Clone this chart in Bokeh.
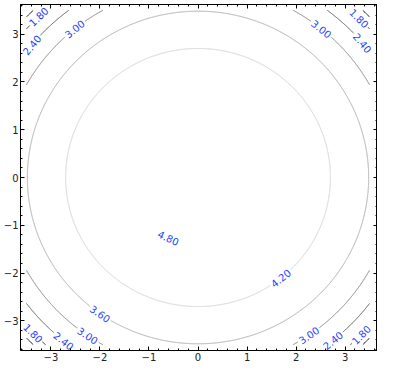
import numpy as np
from bokeh.plotting import figure
from bokeh.models import Range1d, LinearAxis, SingleIntervalTicker
from bokeh.core.properties import value
from bokeh.embed import file_html
from bokeh.resources import INLINE

# ---- data ----
levels = [1.2, 1.8, 2.4, 3.0, 3.6, 4.2, 4.8]
radii = [4.85, 4.68, 4.38, 4.00, 3.48, 2.70, 1.40]
line_colors = ["#000000", "#2a2a2a", "#555555", "#7f7f7f", "#aaaaaa", "#d4d4d4", "#ffffff"]
grid_half = 3.5  # extent of the contoured field

label_levels = [1.8, 2.4, 3.0, 1.8, 2.4, 3.0, 1.8, 2.4, 3.0, 3.6, 1.8, 2.4, 3.0, 4.2, 4.8]
label_pos_deg = [134, 140.7, 129, 45.4, 40, 51, 224.1, 231.3, 235.8, 235, -44.7, -51.1, -55.6, -51.3, 244.5]

tick_font = "DejaVu Sans"
PX_PER_UNIT = 48.0
GAP_PX = 12.5

p = figure(width=377, height=363, output_backend="svg", toolbar_location=None,
           x_range=Range1d(-3.62, 3.66), y_range=Range1d(-3.62, 3.62),
           min_border_left=0, min_border_right=0, min_border_top=4, min_border_bottom=0)
p.grid.visible = False
p.outline_line_color = "black"
p.background_fill_color = "white"

# contour lines (circles clipped to the field, with gaps under labels)
lab_r = {lv: r for lv, r in zip(levels, radii)}
theta = np.radians(np.arange(0, 360.0, 0.1))
xs_all, ys_all, cols = [], [], []
for lv, r, c in zip(levels, radii, line_colors):
    x = r * np.cos(theta)
    y = r * np.sin(theta)
    keep = (np.abs(x) <= grid_half) & (np.abs(y) <= grid_half)
    for L, a in zip(label_levels, label_pos_deg):
        if L == lv:
            half = GAP_PX / (r * PX_PER_UNIT)
            d = np.angle(np.exp(1j * (theta - np.radians(a))))
            keep &= np.abs(d) > half
    if not keep.any():
        continue
    if keep.all():
        xs_all.append(list(np.append(x, x[0]))); ys_all.append(list(np.append(y, y[0]))); cols.append(c)
        continue
    start = np.argmin(keep)
    order = np.roll(np.arange(len(theta)), -start)
    run = []
    for i in order:
        if keep[i]:
            run.append(i)
        else:
            if len(run) > 1:
                xs_all.append(list(x[run])); ys_all.append(list(y[run])); cols.append(c)
            run = []
    if len(run) > 1:
        xs_all.append(list(x[run])); ys_all.append(list(y[run])); cols.append(c)

p.multi_line(xs=xs_all, ys=ys_all, line_color=cols, line_width=1)

# contour labels
lx, ly, lang, ltxt = [], [], [], []
for L, a in zip(label_levels, label_pos_deg):
    r = lab_r[L]
    lx.append(r * np.cos(np.radians(a)))
    ly.append(r * np.sin(np.radians(a)))
    rot = (a + 90 + 180) % 360 - 180
    if rot > 90:
        rot -= 180
    if rot < -90:
        rot += 180
    lang.append(np.radians(rot))
    ltxt.append(f"{L:.2f}")
p.text(x=lx, y=ly, text=ltxt, angle=lang, text_color="#1f3fff",
       text_font=value(tick_font), text_font_size="10px",
       text_align="center", text_baseline="middle")

def style_axis(ax, labels=True):
    ax.ticker = SingleIntervalTicker(interval=1, num_minor_ticks=5)
    ax.major_tick_in = 4
    ax.major_tick_out = 0
    ax.minor_tick_in = 2
    ax.minor_tick_out = 0
    ax.axis_line_color = "black"
    ax.major_tick_line_color = "black"
    ax.minor_tick_line_color = "black"
    ax.major_label_text_font = tick_font
    if labels:
        ax.major_label_text_color = "#222222"
        ax.major_label_text_font_size = "10px"
        ax.major_label_text_line_height = 1.0
        ax.major_label_standoff = 2
    else:
        ax.major_label_text_color = None
        ax.major_label_text_font_size = "1px"
        ax.major_label_standoff = 0

style_axis(p.xaxis[0])
style_axis(p.yaxis[0])
top = LinearAxis()
right = LinearAxis()
style_axis(top, labels=False)
style_axis(right, labels=False)
p.add_layout(top, "above")
p.add_layout(right, "right")

open("out.html", "w").write(file_html(p, INLINE))
